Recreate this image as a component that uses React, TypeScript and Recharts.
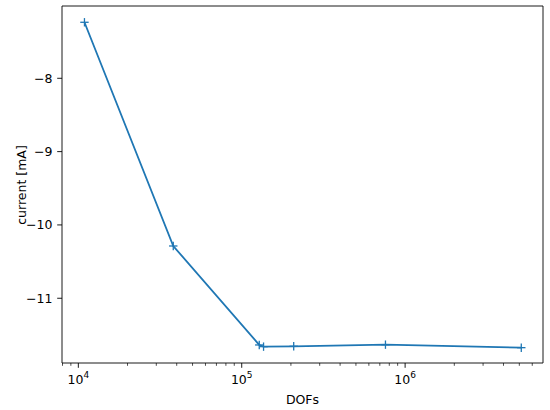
import React from 'react';
import { LineChart, Line, XAxis, YAxis, ReferenceLine } from 'recharts';

// DOFs vs. computed current
const dofs = [10900, 38100, 128000, 136000, 208000, 758000, 5140000];
const current = [-7.236, -10.287, -11.637, -11.66, -11.655, -11.633, -11.674];

const xTicks = [
  8e3, 9e3,
  1e4, 2e4, 3e4, 4e4, 5e4, 6e4, 7e4, 8e4, 9e4,
  1e5, 2e5, 3e5, 4e5, 5e5, 6e5, 7e5, 8e5, 9e5,
  1e6, 2e6, 3e6, 4e6, 5e6, 6e6,
];
const yTicks = [-11, -10, -9, -8];

const data = dofs.map((d, i) => ({ dofs: d, current: current[i] }));

const FONT = '"DejaVu Sans", sans-serif';
const BLUE = '#1f77b4';
const FS = 12.5;

const xDomain = [7943, 6980000];
const yDomain = [-11.883, -7.014];

const XTick = (props: any) => {
  const { x, y, payload } = props;
  const lg = Math.log10(payload.value);
  const e = Math.round(lg);
  const major = Math.abs(lg - e) < 1e-6;
  return (
    <g>
      <line x1={x} x2={x} y1={y} y2={y + (major ? 4.8 : 2.8)} stroke="#000" strokeWidth={major ? 0.9 : 0.7} />
      {major && (
        <text x={x} y={y + 21} textAnchor="middle" fontFamily={FONT} fontSize={FS} fill="#000">
          10<tspan dy={-6.3} fontSize={9}>{e}</tspan>
        </text>
      )}
    </g>
  );
};

const YTick = (props: any) => {
  const { x, y, payload } = props;
  const v = payload.value as number;
  const s = v < 0 ? '\u2212' + Math.abs(v) : String(v);
  return (
    <g>
      <line x1={x - 4.8} x2={x} y1={y} y2={y} stroke="#000" strokeWidth={0.9} />
      <text x={x - 9.5} y={y} dy="0.36em" textAnchor="end" fontFamily={FONT} fontSize={FS} fill="#000">
        {s}
      </text>
    </g>
  );
};

const PlusDot = (props: any) => {
  const { cx, cy } = props;
  if (cx == null || cy == null) return null;
  const r = 4.2;
  return (
    <g>
      <line x1={cx - r} x2={cx + r} y1={cy} y2={cy} stroke={BLUE} strokeWidth={1.3} />
      <line x1={cx} x2={cx} y1={cy - r} y2={cy + r} stroke={BLUE} strokeWidth={1.3} />
    </g>
  );
};

export default function App() {
  return (
    <div style={{ position: 'absolute', left: 0, top: 0, width: 550, height: 410, background: '#fff' }}>
      <LineChart width={550} height={410} data={data} margin={{ top: 6, right: 7, bottom: 0, left: 0 }}>
        <XAxis
          dataKey="dofs"
          type="number"
          scale="log"
          domain={xDomain}
          allowDataOverflow
          ticks={xTicks}
          interval={0}
          tickSize={0}
          tickMargin={0}
          tick={<XTick />}
          height={47}
          axisLine={{ stroke: '#000', strokeWidth: 0.9 }}
          label={{
            value: 'DOFs',
            position: 'insideBottom',
            offset: 6,
            style: { fontFamily: FONT, fontSize: FS, fill: '#000' },
          }}
        />
        <YAxis
          type="number"
          domain={yDomain}
          allowDataOverflow
          ticks={yTicks}
          interval={0}
          tickSize={0}
          tickMargin={0}
          tick={<YTick />}
          width={62}
          axisLine={{ stroke: '#000', strokeWidth: 0.9 }}
        />
        {/* top and right spines */}
        <ReferenceLine y={yDomain[1]} stroke="#000" strokeWidth={0.9} />
        <ReferenceLine x={xDomain[1]} stroke="#000" strokeWidth={0.9} />
        <Line
          dataKey="current"
          stroke={BLUE}
          strokeWidth={1.8}
          dot={<PlusDot />}
          activeDot={false}
          isAnimationActive={false}
        />
      </LineChart>
      {/* y axis title, rotated */}
      <div
        style={{
          position: 'absolute',
          left: 22 - 60,
          top: 184.5 - 8,
          width: 120,
          height: 16,
          lineHeight: '16px',
          textAlign: 'center',
          fontFamily: FONT,
          fontSize: FS,
          color: '#000',
          transform: 'rotate(-90deg)',
          transformOrigin: '50% 50%',
          whiteSpace: 'nowrap',
          pointerEvents: 'none',
        }}
      >
        current [mA]
      </div>
    </div>
  );
}
